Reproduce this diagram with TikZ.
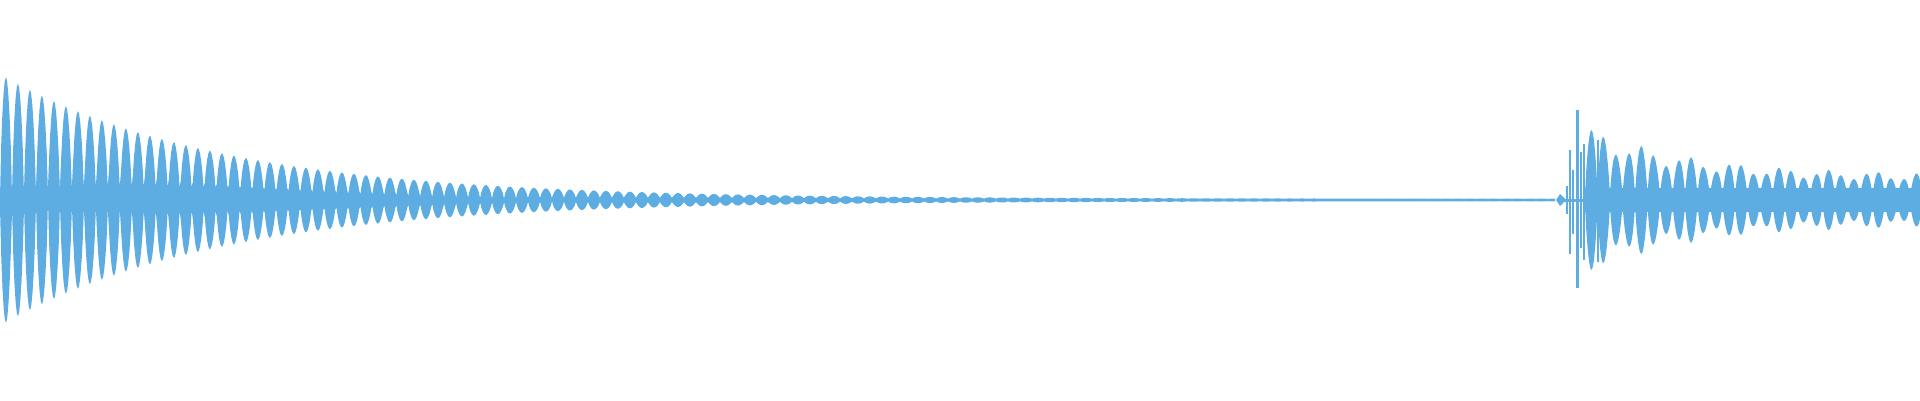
\documentclass[tikz,border=0pt]{standalone}
\definecolor{wave}{RGB}{93,173,226}
\begin{document}
\begin{tikzpicture}[x=1pt,y=1pt]
\useasboundingbox (0,-200) rectangle (1920,200);
\fill[wave] plot[domain=0:129.6,samples=1300] ({12*\x},{1.2+125*exp(-\x/18.3)*(sin(180*(\x-floor(\x))))^0.7})
 -- plot[domain=129.6:0,samples=1300] ({12*\x},{-1.2-125*exp(-\x/18.3)*(sin(180*(\x-floor(\x))))^0.7}) -- cycle;
\fill[wave] plot[domain=0:26.8,samples=500] ({1585+12.5*\x},{1.5+(24+50*exp(-\x/8))*(0.85+0.15*sin(97*\x))*(sin(180*(\x-floor(\x))))^0.7})
 -- plot[domain=26.8:0,samples=500] ({1585+12.5*\x},{-1.5-(24+50*exp(-\x/8))*(0.85+0.15*sin(97*\x))*(sin(180*(\x-floor(\x))))^0.7}) -- cycle;
\fill[wave] (1585,-12) rectangle (1920,12);
\fill[wave] (1560,-6) -- (1556,0) -- (1560,6) -- (1566,0) -- cycle;
\fill[wave] (1558,-1.5) rectangle (1590,1.5);
\fill[wave] (1566,-14) rectangle (1568,14);
\fill[wave] (1569,-54) rectangle (1571,50);
\fill[wave] (1572,-34) rectangle (1574,30);
\fill[wave] (1576,-88) rectangle (1579,90);
\fill[wave] (1580,-48) rectangle (1582,48);
\fill[wave] (1583,-60) rectangle (1585,56);
\fill[wave] (1591,-65) rectangle (1593,60);
\fill[wave] (1597,-62) rectangle (1599,60);
\end{tikzpicture}
\end{document}
